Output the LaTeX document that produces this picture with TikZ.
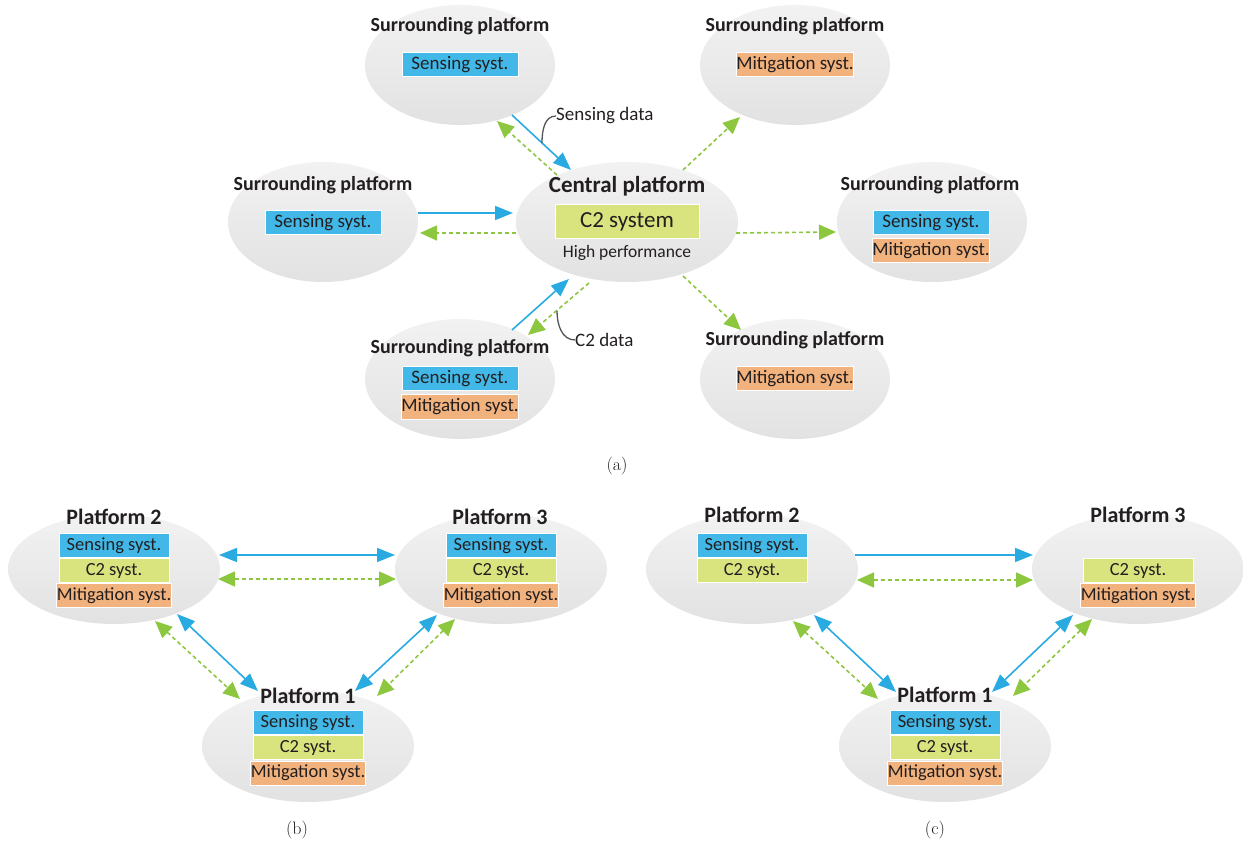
\documentclass[tikz,border=0pt]{standalone}
\usepackage{fontspec}
\newfontfamily\calfont{Carlito}
\usetikzlibrary{shapes.geometric,arrows.meta}
\definecolor{sensblue}{HTML}{41B8E8}
\definecolor{ctwogreen}{HTML}{D9E47F}
\definecolor{mitorange}{HTML}{F2B27D}
\definecolor{arrblue}{HTML}{29ABE2}
\definecolor{arrgreen}{HTML}{8DC63F}
\definecolor{ellTop}{HTML}{F2F2F2}
\definecolor{ellBot}{HTML}{E2E2E2}
\definecolor{txt}{HTML}{231F20}
\definecolor{lblline}{HTML}{555555}
\tikzset{
  ell/.style={ellipse, inner sep=0pt, top color=ellTop, bottom color=ellBot, draw=none},
  ellA/.style={ell, minimum width=190, minimum height=120},
  ellB/.style={ell, minimum width=212, minimum height=110},
  ttl/.style={font=\calfont\bfseries\fontsize{20}{24}\selectfont, text=txt, inner sep=0pt, yshift=-2pt},
  ttlB/.style={font=\calfont\bfseries\fontsize{22}{26}\selectfont, text=txt, inner sep=0pt, yshift=-1.5pt},
  sbox/.style={rectangle, draw=white, line width=1pt, minimum width=116, minimum height=24, inner sep=0pt, text=txt, font=\calfont\fontsize{19}{22}\selectfont},
  sboxB/.style={sbox, minimum width=110, minimum height=24, font=\calfont\fontsize{18.5}{22}\selectfont},
  blu/.style={draw=arrblue, line width=1.6pt, -{Triangle[length=18pt,width=14pt]}},
  bluB/.style={draw=arrblue, line width=1.6pt, {Triangle[length=18pt,width=14pt]}-{Triangle[length=18pt,width=14pt]}},
  grn/.style={draw=arrgreen, line width=1.6pt, dash pattern=on 4pt off 3pt, -{Triangle[length=17pt,width=15pt]}},
  grnB/.style={draw=arrgreen, line width=1.6pt, dash pattern=on 4pt off 3pt, {Triangle[length=17pt,width=15pt]}-{Triangle[length=17pt,width=15pt]}},
  lbl/.style={font=\calfont\fontsize{19}{22}\selectfont, text=txt, inner sep=0pt},
  capt/.style={font=\fontsize{18}{21}\selectfont, text=txt, inner sep=0pt}
}
\begin{document}
\begin{tikzpicture}[x=1pt,y=-1pt]
\useasboundingbox (0,0) rectangle (1243,842);
% ---------------- (a) ----------------
\node[ellA] (s1) at (460,65) {};
\node[ttl] (s1t) at (460,24) {Surrounding platform};
\node[sbox, fill=sensblue] (s1a) at (460,64.5) {Sensing syst.};

\node[ellA] (s2) at (795,65) {};
\node[ttl] (s2t) at (795,24) {Surrounding platform};
\node[sbox, fill=mitorange] (s2a) at (795,64.5) {Mitigation syst.};

\node[ellA] (s3) at (323,222) {};
\node[ttl] (s3t) at (323,183) {Surrounding platform};
\node[sbox, fill=sensblue] (s3a) at (323,222.5) {Sensing syst.};

\node[ell, minimum width=222, minimum height=120] (cen) at (627,222) {};
\node[ttl, font=\calfont\bfseries\fontsize{23}{27}\selectfont] (cent) at (627,184) {Central platform};
\node[sbox, fill=ctwogreen, minimum width=144, minimum height=34, font=\calfont\fontsize{23}{27}\selectfont] (cena) at (627,222) {C2 system};
\node[lbl, font=\calfont\fontsize{17.5}{21}\selectfont] (cenb) at (627,253) {High performance};

\node[ellA] (s4) at (932,222) {};
\node[ttl] (s4t) at (930,183) {Surrounding platform};
\node[sbox, fill=sensblue] (s4a) at (931,222.5) {Sensing syst.};
\node[sbox, fill=mitorange] (s4b) at (931,250.5) {Mitigation syst.};

\node[ellA] (s5) at (460,379) {};
\node[ttl] (s5t) at (460,346) {Surrounding platform};
\node[sbox, fill=sensblue] (s5a) at (460,379) {Sensing syst.};
\node[sbox, fill=mitorange] (s5b) at (460,407) {Mitigation syst.};

\node[ellA] (s6) at (795,379) {};
\node[ttl] (s6t) at (795,338) {Surrounding platform};
\node[sbox, fill=mitorange] (s6a) at (795,378.5) {Mitigation syst.};

% connector endpoints (a)
\coordinate (a1s) at (512,115); \coordinate (a1e) at (571,170);
\coordinate (a2s) at (557,175); \coordinate (a2e) at (497,121);
\coordinate (a3s) at (683,170); \coordinate (a3e) at (740,117);
\coordinate (a4s) at (418,213); \coordinate (a4e) at (513,213);
\coordinate (a5s) at (516,233); \coordinate (a5e) at (420,233);
\coordinate (a6s) at (736,233); \coordinate (a6e) at (836,232);
\coordinate (a7s) at (512,330); \coordinate (a7e) at (569,279);
\coordinate (a8s) at (589,283); \coordinate (a8e) at (528,335);
\coordinate (a9s) at (683,276); \coordinate (a9e) at (741,330);
\draw[blu] (a1s) -- (a1e);
\draw[grn] (a2s) -- (a2e);
\draw[grn] (a3s) -- (a3e);
\draw[blu] (a4s) -- (a4e);
\draw[grn] (a5s) -- (a5e);
\draw[grn] (a6s) -- (a6e);
\draw[blu] (a7s) -- (a7e);
\draw[grn] (a8s) -- (a8e);
\draw[grn] (a9s) -- (a9e);

\node[lbl, anchor=west] (sdl) at (556,116) {Sensing data};
\coordinate (sdp) at (542,143);
\draw[lblline, line width=1.3pt] (sdl.west) to[out=180,in=90] (sdp);
\node[lbl, anchor=west] (cdl) at (575,340) {C2 data};
\coordinate (cdp) at (557,311);
\draw[lblline, line width=1.3pt] (cdl.west) to[out=180,in=-90] (cdp);

\node[capt] (capa) at (617,466) {(a)};

% ---------------- (b) ----------------
\node[ellB] (b2) at (114,569) {};
\node[ttlB] (b2t) at (114,515) {Platform 2};
\node[sboxB, fill=sensblue] (b2a) at (114,545.5) {Sensing syst.};
\node[sboxB, fill=ctwogreen] (b2b) at (114,570.5) {C2 syst.};
\node[sboxB, fill=mitorange] (b2c) at (114,595.5) {Mitigation syst.};

\node[ellB] (b3) at (501,569) {};
\node[ttlB] (b3t) at (500,515) {Platform 3};
\node[sboxB, fill=sensblue] (b3a) at (501,545.5) {Sensing syst.};
\node[sboxB, fill=ctwogreen] (b3b) at (501,570.5) {C2 syst.};
\node[sboxB, fill=mitorange] (b3c) at (501,595.5) {Mitigation syst.};

\node[ellB, minimum height=112] (b1) at (308,746) {};
\node[ttlB] (b1t) at (308,694) {Platform 1};
\node[sboxB, fill=sensblue] (b1a) at (308,722.5) {Sensing syst.};
\node[sboxB, fill=ctwogreen] (b1b) at (308,747.5) {C2 syst.};
\node[sboxB, fill=mitorange] (b1c) at (308,773) {Mitigation syst.};

\coordinate (b_1s) at (219,555); \coordinate (b_1e) at (395,555);
\coordinate (b_2s) at (218,579); \coordinate (b_2e) at (396,579);
\coordinate (b_3s) at (177,614); \coordinate (b_3e) at (258,691);
\coordinate (b_4s) at (155,621); \coordinate (b_4e) at (240,699);
\coordinate (b_5s) at (437,615); \coordinate (b_5e) at (355,691);
\coordinate (b_6s) at (455,619); \coordinate (b_6e) at (377,696);
\draw[bluB] (b_1s) -- (b_1e);
\draw[grnB] (b_2s) -- (b_2e);
\draw[bluB] (b_3s) -- (b_3e);
\draw[grnB] (b_4s) -- (b_4e);
\draw[bluB] (b_5s) -- (b_5e);
\draw[grnB] (b_6s) -- (b_6e);

\node[capt] (capb) at (297,830) {(b)};

% ---------------- (c) ----------------
\node[ellB] (c2) at (752,569) {};
\node[ttlB] (c2t) at (752,513) {Platform 2};
\node[sboxB, fill=sensblue] (c2a) at (752,545.5) {Sensing syst.};
\node[sboxB, fill=ctwogreen] (c2b) at (752,570.5) {C2 syst.};

\node[ellB] (c3) at (1138,569) {};
\node[ttlB] (c3t) at (1138,513) {Platform 3};
\node[sboxB, fill=ctwogreen] (c3b) at (1138,570.5) {C2 syst.};
\node[sboxB, fill=mitorange] (c3c) at (1138,595.5) {Mitigation syst.};

\node[ellB, minimum height=112] (c1) at (945,746) {};
\node[ttlB] (c1t) at (945,693) {Platform 1};
\node[sboxB, fill=sensblue] (c1a) at (945,722.5) {Sensing syst.};
\node[sboxB, fill=ctwogreen] (c1b) at (945,747.5) {C2 syst.};
\node[sboxB, fill=mitorange] (c1c) at (945,773) {Mitigation syst.};

\coordinate (c_1s) at (855,555); \coordinate (c_1e) at (1033,555);
\coordinate (c_2s) at (857,580); \coordinate (c_2e) at (1033,580);
\coordinate (c_3s) at (814,615); \coordinate (c_3e) at (896,692);
\coordinate (c_4s) at (793,621); \coordinate (c_4e) at (878,699);
\coordinate (c_5s) at (1073,615); \coordinate (c_5e) at (992,692);
\coordinate (c_6s) at (1092,619); \coordinate (c_6e) at (1013,696);
\draw[blu] (c_1s) -- (c_1e);
\draw[grnB] (c_2s) -- (c_2e);
\draw[bluB] (c_3s) -- (c_3e);
\draw[grnB] (c_4s) -- (c_4e);
\draw[bluB] (c_5s) -- (c_5e);
\draw[grnB] (c_6s) -- (c_6e);

\node[capt] (capc) at (935,830) {(c)};
\end{tikzpicture}
\end{document}
